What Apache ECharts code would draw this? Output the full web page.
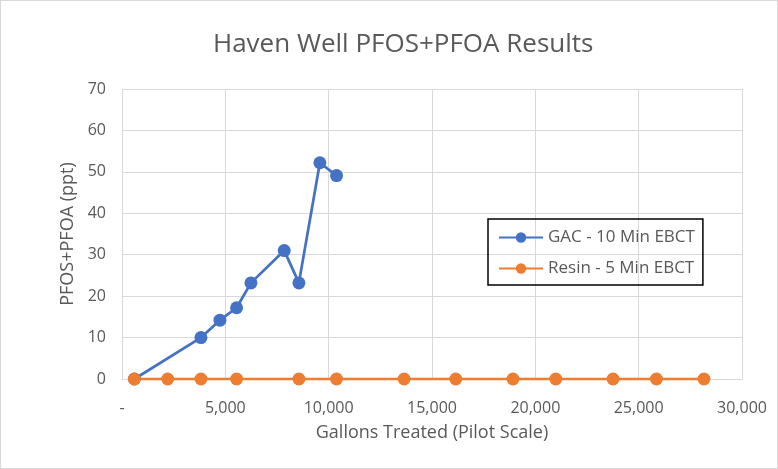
<!DOCTYPE html>
<html>
<head>
<meta charset="utf-8">
<script src="https://cdn.jsdelivr.net/npm/echarts@6/dist/echarts.min.js"></script>
<style>
  html, body { margin: 0; padding: 0; background: #fff; }
  #chart { width: 776px; height: 467px; border: 1px solid #d9d9d9; }
</style>
</head>
<body>
<div id="chart"></div>
<script>
// GAC - 10 Min EBCT
const gacGallons = [600, 3820, 4740, 5545, 6240, 7850, 8560, 9575, 10380];
const gacValues = [0, 10, 14.2, 17.2, 23.2, 31, 23.2, 52.2, 49.1];

// Resin - 5 Min EBCT
const resinGallons = [600, 2210, 3820, 5545, 8560, 10380, 13650, 16150, 18920, 20990, 23760, 25860, 28160];
const resinValues = [0, 0, 0, 0, 0, 0, 0, 0, 0, 0, 0, 0, 0];

const seriesNames = ['GAC - 10 Min EBCT', 'Resin - 5 Min EBCT'];

const pair = (xs, ys) => xs.map((x, i) => [x, ys[i]]);

const chart = echarts.init(document.getElementById('chart'));

const option = {
  animation: false,
  title: {
    text: 'Haven Well PFOS+PFOA Results',
    left: 207,
    top: 26,
    textStyle: {
      color: '#595959',
      fontSize: 26,
      fontWeight: 'normal',
      fontFamily: 'Open Sans'
    }
  },
  legend: {
    data: seriesNames,
    orient: 'vertical',
    left: 487,
    top: 218,
    padding: [10, 8, 8, 10],
    itemGap: 14,
    itemWidth: 44,
    itemHeight: 13,
    borderColor: '#000',
    borderWidth: 1.5,
    textStyle: { color: '#595959', fontSize: 17, fontFamily: 'Open Sans' }
  },
  grid: {
    left: 121,
    right: 35,
    top: 88,
    bottom: 89
  },
  xAxis: {
    type: 'value',
    min: 0,
    max: 30000,
    interval: 5000,
    name: 'Gallons Treated (Pilot Scale)',
    nameLocation: 'middle',
    nameGap: 45,
    nameTextStyle: { color: '#595959', fontSize: 18, fontFamily: 'Open Sans' },
    axisLine: { show: true, lineStyle: { color: '#d9d9d9', width: 1 } },
    axisTick: { show: false },
    axisLabel: {
      color: '#595959',
      fontSize: 16,
      margin: 21,
      fontFamily: 'Open Sans',
      formatter: v => v === 0 ? '-' : v.toLocaleString('en-US')
    },
    splitLine: { show: true, lineStyle: { color: '#d9d9d9', width: 1 } }
  },
  yAxis: {
    type: 'value',
    min: 0,
    max: 70,
    interval: 10,
    name: 'PFOS+PFOA (ppt)',
    nameLocation: 'middle',
    nameGap: 45,
    nameRotate: 90,
    nameTextStyle: { color: '#595959', fontSize: 18, fontFamily: 'Open Sans' },
    axisLine: { show: false },
    axisTick: { show: false },
    axisLabel: { color: '#595959', fontSize: 16, margin: 16, fontFamily: 'Open Sans' },
    splitLine: { show: true, lineStyle: { color: '#d9d9d9', width: 1 } }
  },
  series: [
    {
      name: seriesNames[0],
      type: 'line',
      data: pair(gacGallons, gacValues),
      symbol: 'circle',
      symbolSize: 13,
      itemStyle: { color: '#4472c4' },
      lineStyle: { color: '#4472c4', width: 2.75 }
    },
    {
      name: seriesNames[1],
      type: 'line',
      data: pair(resinGallons, resinValues),
      symbol: 'circle',
      symbolSize: 13,
      itemStyle: { color: '#ed7d31' },
      lineStyle: { color: '#ed7d31', width: 2.75 }
    }
  ]
};

chart.setOption(option);
</script>
</body>
</html>
